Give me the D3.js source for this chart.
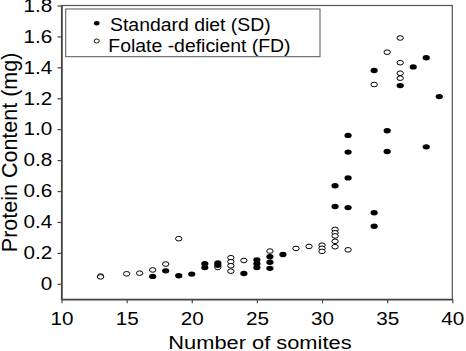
<!DOCTYPE html>
<html><head><meta charset="utf-8">
<script src="https://cdn.jsdelivr.net/npm/d3@7"></script>
<style>body{margin:0;background:#fff}svg{display:block}text{font-family:"Liberation Sans",Arial,sans-serif}</style>
</head><body><div id="chart"></div>
<script>
const sdX = [17,18,19,20,21,21,22,22,24,25,25,25,26,26,26,27,31,31,32,32,32,32,34,34,34,35,35,36,37,38,38,39];
const sdY = [0.048,0.084,0.052,0.063,0.13,0.105,0.135,0.12,0.067,0.155,0.13,0.105,0.175,0.14,0.10,0.19,0.634,0.50,0.96,0.852,0.685,0.493,1.38,0.46,0.372,0.99,0.856,1.282,1.403,1.462,0.886,1.211];
const fdX = [13,13,15,16,17,18,19,22,23,23,23,23,24,26,28,29,30,30,30,31,31,31,31,31,32,34,35,36,36,36,36];
const fdY = [0.05,0.045,0.065,0.069,0.09,0.128,0.292,0.106,0.169,0.143,0.117,0.082,0.151,0.212,0.229,0.242,0.25,0.23,0.21,0.352,0.33,0.31,0.275,0.24,0.22,1.289,1.498,1.59,1.43,1.362,1.33];
const xTicks = [10,15,20,25,30,35,40];
const yTicks = [0,0.2,0.4,0.6,0.8,1.0,1.2,1.4,1.6,1.8];
const yTickLabels = ["0","0.2","0.4","0.6","0.8","1.0","1.2","1.4","1.6","1.8"];
const legendLabels = ["Standard diet (SD)","Folate -deficient (FD)"];

const W = 466, H = 351;
const L = 61.5, R = 452.3, T = 5.5, B = 299.3;
const svg = d3.select("#chart").append("svg").attr("width", W).attr("height", H);
const x = d3.scaleLinear().domain([10,40]).range([L,R]);
const y = d3.scaleLinear().domain([-0.1,1.8]).range([B,T]);

// frame
svg.append("rect").attr("x",L).attr("y",T).attr("width",R-L).attr("height",B-T)
  .attr("fill","none").attr("stroke","#555").attr("stroke-width",1.2);

const gx = svg.append("g").attr("transform",`translate(0,${B})`)
  .call(d3.axisBottom(x).tickValues(xTicks).tickSize(4).tickPadding(9).tickSizeOuter(0));
const gy = svg.append("g").attr("transform",`translate(${L},0)`)
  .call(d3.axisLeft(y).tickValues(yTicks).tickFormat((d,i)=>yTickLabels[i]).tickSize(4).tickPadding(4).tickSizeOuter(0));
[gx,gy].forEach(g=>{
  g.select(".domain").attr("stroke","#444").attr("stroke-width",1.5);
  g.selectAll(".tick line").attr("stroke","#444").attr("stroke-width",1.2);
  g.selectAll("text").attr("font-size","18px").attr("fill","#000")
    .attr("transform","scale(1.15,1)")
    .style("font-family","Liberation Sans, Arial, sans-serif");
});

// titles
svg.append("text").attr("transform",`translate(${(L+R)/2+3},348.5) scale(1.15,1)`).attr("text-anchor","middle")
  .attr("font-size","19px").text("Number of somites");
svg.append("text").attr("transform",`translate(17,${(T+B)/2}) rotate(-90)`).attr("text-anchor","middle")
  .attr("font-size","21.5px").text("Protein Content (mg)");

// points
const sd = sdX.map((v,i)=>({x:v,y:sdY[i]}));
const fd = fdX.map((v,i)=>({x:v,y:fdY[i]}));
svg.append("g").selectAll("ellipse").data(fd).join("ellipse")
  .attr("cx",d=>x(d.x)).attr("cy",d=>y(d.y)).attr("rx",3.2).attr("ry",2.3)
  .attr("fill","#fff").attr("stroke","#000").attr("stroke-width",1);
svg.append("g").selectAll("ellipse").data(sd).join("ellipse")
  .attr("cx",d=>x(d.x)).attr("cy",d=>y(d.y)).attr("rx",3.6).attr("ry",2.7)
  .attr("fill","#000");

// legend
const lg = svg.append("g");
lg.append("rect").attr("x",65.7).attr("y",9).attr("width",254.3).attr("height",47.7)
  .attr("fill","#fff").attr("stroke","#555").attr("stroke-width",1);
lg.append("ellipse").attr("cx",96.7).attr("cy",23.3).attr("rx",2.8).attr("ry",2.2).attr("fill","#000");
lg.append("ellipse").attr("cx",96.7).attr("cy",41).attr("rx",2.6).attr("ry",2).attr("fill","#fff").attr("stroke","#000").attr("stroke-width",0.9);
lg.append("text").attr("transform","translate(110,30.7) scale(1.05,1)").attr("font-size","18.5px").text(legendLabels[0]);
lg.append("text").attr("transform","translate(108.3,51.7) scale(1.05,1)").attr("font-size","18.5px").text(legendLabels[1]);
</script></body></html>
